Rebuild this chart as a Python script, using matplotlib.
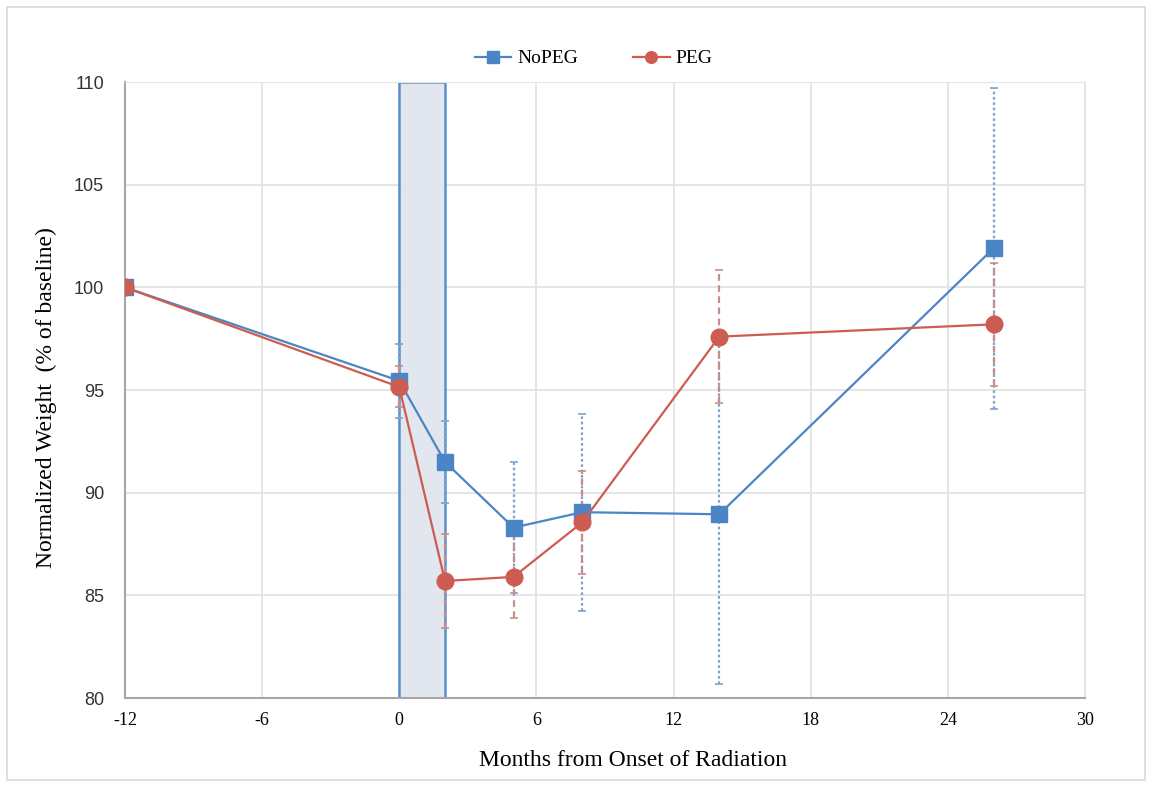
import numpy as np
import matplotlib
matplotlib.use("Agg")
import matplotlib.pyplot as plt
from matplotlib.patches import Rectangle

# data
months = [-12, 0, 2, 5, 8, 14, 26]
nopeg = [100.0, 95.45, 91.5, 88.3, 89.05, 88.95, 101.9]
nopeg_err = [0.0, 1.8, 2.0, 3.2, 4.8, 8.25, 7.8]
peg = [100.0, 95.15, 85.7, 85.9, 88.55, 97.6, 98.2]
peg_err = [0.0, 1.0, 2.3, 2.0, 2.5, 3.25, 3.0]
radiation_start, radiation_end = 0, 2

blue = "#4a86c6"
red = "#cd5c52"
serif = "Liberation Serif"
sans = "Liberation Sans"
plt.rcParams["axes.unicode_minus"] = False

fig = plt.figure(figsize=(11.52, 7.85), dpi=100)
fig.patches.append(Rectangle((0.006, 0.006), 0.988, 0.985, transform=fig.transFigure,
                             fill=False, edgecolor="#d9d9d9", linewidth=1.2))
ax = fig.add_axes([0.1085, 0.1108, 0.8333, 0.7847])

# radiation window
ax.add_patch(Rectangle((radiation_start, 80), radiation_end - radiation_start, 30,
                       facecolor="#dfe5ee", edgecolor=blue, linewidth=1.8, alpha=0.9, zorder=1))

# error bars
eb = ax.errorbar(months, nopeg, yerr=nopeg_err, fmt="none", ecolor="#7fa3cf",
                 elinewidth=1.6, capsize=3, capthick=1.2, zorder=2)
eb[2][0].set_linestyle((0, (1.2, 1.2)))
eb = ax.errorbar(months, peg, yerr=peg_err, fmt="none", ecolor="#c78d8a",
                 elinewidth=1.6, capsize=3, capthick=1.2, zorder=2)
eb[2][0].set_linestyle((0, (3, 2)))

ax.plot(months, nopeg, color=blue, lw=1.6, marker="s", ms=12, label="NoPEG", zorder=3)
ax.plot(months, peg, color=red, lw=1.6, marker="o", ms=12, label="PEG", zorder=4)

ax.set_xlim(-12, 30)
ax.set_ylim(80, 110)
ax.set_xticks(np.arange(-12, 31, 6))
ax.set_yticks(np.arange(80, 111, 5))
ax.grid(True, color="#e3e3e3", linewidth=1.3)
ax.set_axisbelow(True)
ax.tick_params(length=0)
ax.tick_params(axis="x", pad=10)
ax.tick_params(axis="y", pad=15)
for lbl in ax.get_xticklabels():
    lbl.set_fontfamily(serif)
    lbl.set_fontsize(13)
for lbl in ax.get_yticklabels():
    lbl.set_fontfamily(sans)
    lbl.set_fontsize(13)
    lbl.set_color("#333333")

for s in ["top", "right"]:
    ax.spines[s].set_color("#e6e6e6")
for s in ["left", "bottom"]:
    ax.spines[s].set_color("#a6a6a6")
    ax.spines[s].set_linewidth(1.5)

ax.set_xlabel("Months from Onset of Radiation", fontfamily=serif, fontsize=17, labelpad=10)
ax.xaxis.set_label_coords(0.529, -0.085)
ax.set_ylabel("Normalized Weight  (% of baseline)", fontfamily=serif, fontsize=17)
ax.yaxis.set_label_coords(-0.071, 0.488)

ax.legend(loc="center", bbox_to_anchor=(0.488, 1.038), ncol=2, frameon=False,
          prop={"family": serif, "size": 14}, handlelength=1.9, handletextpad=0.3,
          columnspacing=2.8, markerscale=0.7)

fig.savefig("out.png", dpi=100)
